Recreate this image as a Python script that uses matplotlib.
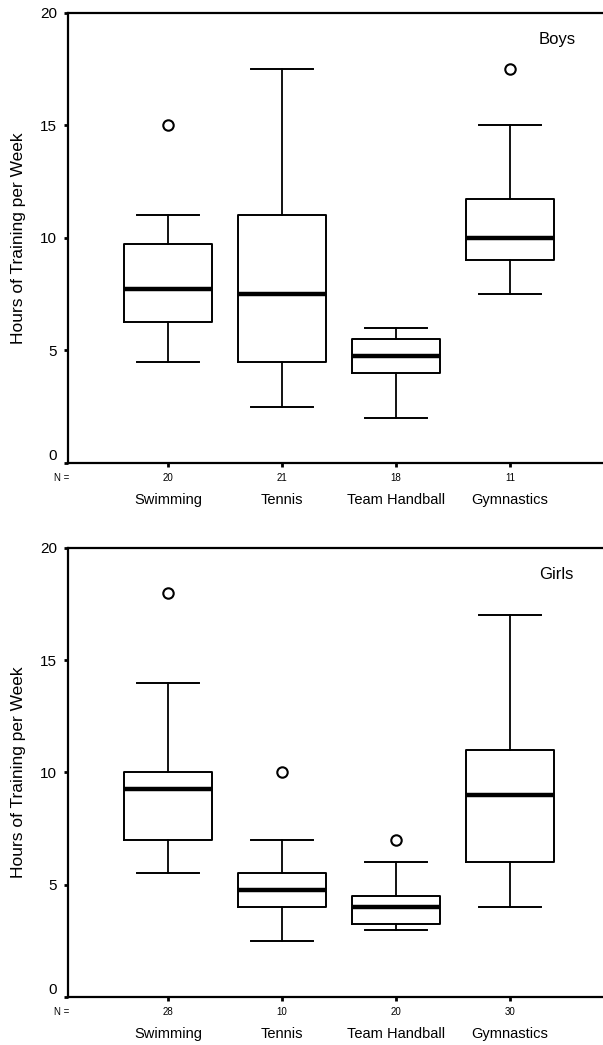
import matplotlib
matplotlib.use('Agg')
import matplotlib.pyplot as plt

plt.rcParams['font.family'] = ['Liberation Sans', 'DejaVu Sans']

SPORTS = ['Swimming', 'Tennis', 'Team Handball', 'Gymnastics']

# boys
BOYS_N = [20, 21, 18, 11]
BOYS_WHISLO = [4.5, 2.5, 2.0, 7.5]
BOYS_Q1 = [6.25, 4.5, 4.0, 9.0]
BOYS_MED = [7.75, 7.5, 4.75, 10.0]
BOYS_Q3 = [9.75, 11.0, 5.5, 11.75]
BOYS_WHISHI = [11.0, 17.5, 6.0, 15.0]
BOYS_FLIERS = [[15.0], [], [], [17.5]]

# girls
GIRLS_N = [28, 10, 20, 30]
GIRLS_WHISLO = [5.5, 2.5, 3.0, 4.0]
GIRLS_Q1 = [7.0, 4.0, 3.25, 6.0]
GIRLS_MED = [9.25, 4.75, 4.0, 9.0]
GIRLS_Q3 = [10.0, 5.5, 4.5, 11.0]
GIRLS_WHISHI = [14.0, 7.0, 6.0, 17.0]
GIRLS_FLIERS = [[18.0], [10.0], [7.0], []]

Y_TICKS = [0, 5, 10, 15, 20]


def make_stats(lo, q1, med, q3, hi, fl):
    stats = []
    for i in range(len(med)):
        stats.append({'whislo': lo[i], 'q1': q1[i], 'med': med[i],
                      'q3': q3[i], 'whishi': hi[i], 'fliers': fl[i]})
    return stats


def draw_panel(ax, stats, counts, title):
    ax.bxp(stats, positions=[1, 2, 3, 4], widths=0.78, capwidths=0.54,
           showfliers=True,
           boxprops=dict(color='black', linewidth=1.4),
           whiskerprops=dict(color='black', linewidth=1.3),
           capprops=dict(color='black', linewidth=1.4),
           medianprops=dict(color='black', linewidth=3.2),
           flierprops=dict(marker='o', markerfacecolor='none',
                           markeredgecolor='black', markersize=7.5,
                           markeredgewidth=1.5))
    ax.set_xlim(0.123, 4.816)
    ax.set_ylim(0, 20)
    ax.set_yticks(Y_TICKS)
    ax.set_yticklabels([str(t) for t in Y_TICKS], fontsize=11)
    ax.get_yticklabels()[0].set_va('bottom')
    ax.set_xticks([1, 2, 3, 4])
    ax.set_xticklabels([str(n) for n in counts], fontsize=7)
    ax.tick_params(axis='both', length=3, width=2, direction='out', pad=4)
    ax.tick_params(axis='y', pad=5)
    for s in ['left', 'bottom', 'top']:
        ax.spines[s].set_linewidth(1.6)
    ax.spines['right'].set_visible(False)
    ax.set_ylabel('Hours of Training per Week', fontsize=12.5, labelpad=10)

    ax.annotate('N =', xy=(0, 0), xycoords='axes fraction',
                xytext=(-10, -11), textcoords='offset points',
                fontsize=7, ha='left', va='center')
    for i, name in enumerate(SPORTS):
        ax.annotate(name, xy=(i + 1, 0), xycoords=('data', 'axes fraction'),
                    xytext=(0, -27), textcoords='offset points',
                    fontsize=10.5, ha='center', va='center')
    ax.text(4.41, 18.8, title, fontsize=12, ha='center', va='center')


fig = plt.figure(figsize=(6.03, 10.45), dpi=100)
ax1 = fig.add_axes([0.1128, 0.557, 0.8872, 0.4306])
ax2 = fig.add_axes([0.1128, 0.046, 0.8872, 0.4297])

draw_panel(ax1, make_stats(BOYS_WHISLO, BOYS_Q1, BOYS_MED, BOYS_Q3,
                           BOYS_WHISHI, BOYS_FLIERS), BOYS_N, 'Boys')
draw_panel(ax2, make_stats(GIRLS_WHISLO, GIRLS_Q1, GIRLS_MED, GIRLS_Q3,
                           GIRLS_WHISHI, GIRLS_FLIERS), GIRLS_N, 'Girls')

fig.savefig('out.png', dpi=100)
